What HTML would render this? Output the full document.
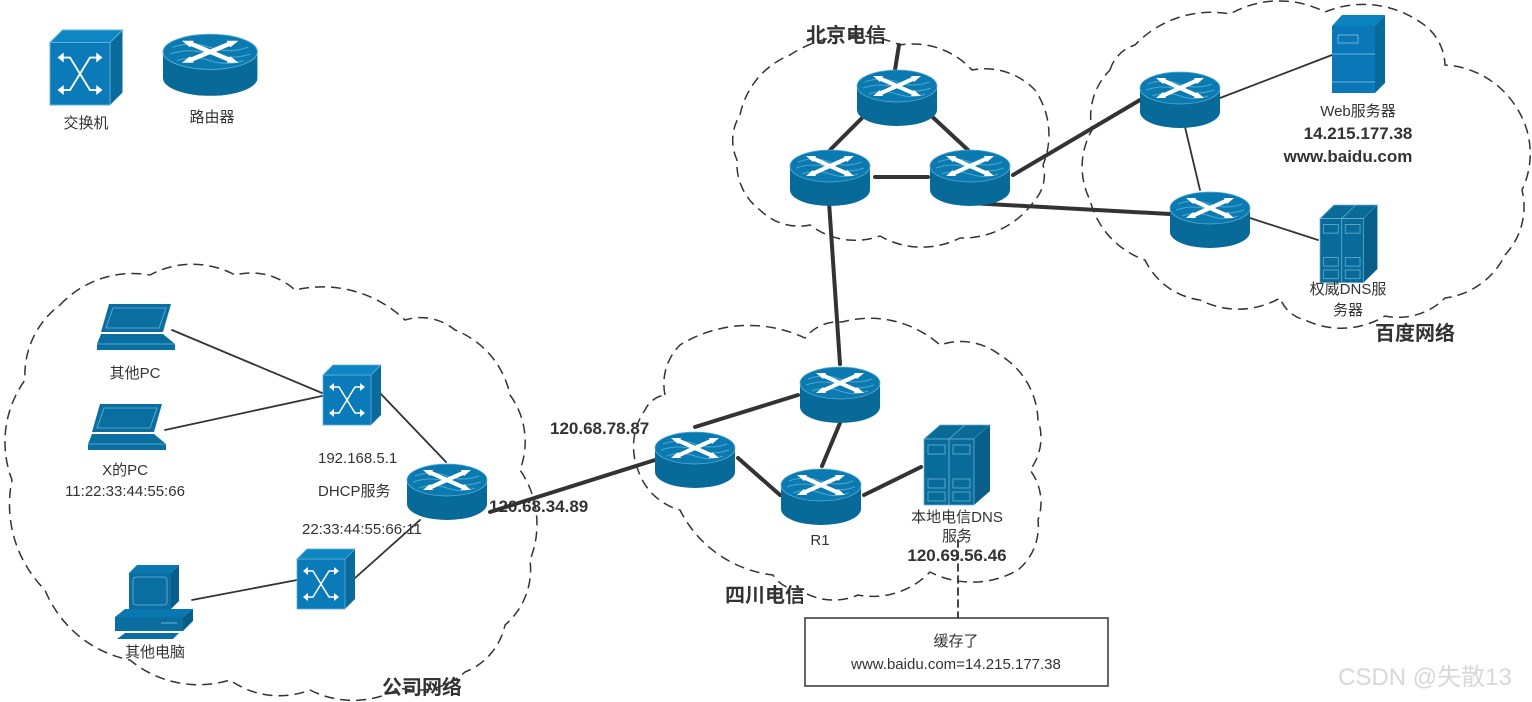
<!DOCTYPE html>
<html><head><meta charset="utf-8"><style>
body{margin:0;background:#fff;}
svg{display:block;font-family:"Liberation Sans","Noto Sans CJK SC",sans-serif;}
.t{font-size:15px;fill:#333;}
.b{font-size:17px;font-weight:bold;fill:#333;}
.bb{font-size:20px;font-weight:bold;fill:#333;}
</style></head><body>
<svg id="s" width="1532" height="702" viewBox="0 0 1532 702">
<defs>
<g id="rt">
<path d="M0,18 v24 a40,16 0 0 0 80,0 v-24 z" fill="#086a98"/>
<ellipse cx="40" cy="18" rx="40" ry="16" fill="#0b7ab0" stroke="#5fb0d8" stroke-width="0.8"/>
<path d="M8,14 q16,-6 32,0 t32,0 M6,20 q17,-6 34,0 t34,0 M12,26 q14,-5 28,0 t28,0" stroke="#4ea6d2" fill="none" stroke-width="1"/>
<path d="M22,10 L58,26 M58,10 L22,26" stroke="#fff" stroke-width="4"/>
<path d="M16,8 l10,0 l-3,6z M64,8 l-10,0 l3,6z M16,28 l10,0 l-3,-6z M64,28 l-10,0 l3,-6z" fill="#fff"/>
</g>
<g id="sw">
<path d="M0,10 L10,0 H58 V50 L48,60 Z" fill="#0a6a9c"/>
<rect x="0" y="10" width="48" height="50" fill="#0a7ab8" stroke="#5fb0d8" stroke-width="0.8"/>
<path d="M0,10 L10,0 H58 L48,10 Z" fill="#0f86c4" stroke="#5fb0d8" stroke-width="0.8"/>
<path d="M8,22 H16 L32,48 H40 M8,48 H16 L32,22 H40" stroke="#fff" stroke-width="1.5" fill="none"/>
<path d="M6,22 l5,-4 v8z M42,22 l-5,-4 v8z M6,48 l5,-4 v8z M42,48 l-5,-4 v8z" fill="#fff"/>
</g>
<g id="dns">
<path d="M0,14 L16,0 H66 L50,14 Z" fill="#0a6a98" stroke="#6ab4d8" stroke-width=".8"/>
<path d="M50,14 L66,0 V66 L50,80 Z" fill="#075e88"/>
<rect x="0" y="14" width="25" height="66" fill="#086b99" stroke="#6ab4d8" stroke-width=".8"/>
<rect x="25" y="14" width="25" height="66" fill="#086b99" stroke="#6ab4d8" stroke-width=".8"/>
<path d="M25,14 L41,0" stroke="#6ab4d8" stroke-width=".8"/>
<g fill="none" stroke="#6ab4d8" stroke-width=".8"><rect x="4" y="20" width="17" height="9"/><rect x="29" y="20" width="17" height="9"/><rect x="4" y="54" width="17" height="9"/><rect x="29" y="54" width="17" height="9"/><rect x="4" y="67" width="17" height="9"/><rect x="29" y="67" width="17" height="9"/></g>
</g>
<g id="lap">
<path d="M12,0 H74 L66,28 H4 Z" fill="#0a6fa0"/>
<path d="M16,4 H69 L62,24 H9 Z" fill="none" stroke="#6ab4d8" stroke-width=".8"/>
<path d="M4,30 H66 L78,40 V46 H0 V40 Z" fill="#0a6fa0"/>
<path d="M0,40 H62 L78,40" stroke="#6ab4d8" stroke-width=".8" fill="none"/>
</g>
<g id="pc">
<path d="M14,10 L22,2 H64 L56,10 Z" fill="#0a78b0"/>
<path d="M56,10 L64,2 V38 L56,46Z" fill="#075e88"/>
<rect x="14" y="10" width="42" height="36" fill="#0a6fa0"/>
<rect x="18" y="14" width="34" height="28" rx="3" fill="none" stroke="#6ab4d8" stroke-width=".8"/>
<path d="M0,54 L10,46 H78 L68,54 Z" fill="#0a78b0"/>
<rect x="0" y="54" width="68" height="14" fill="#0a6fa0"/><path d="M68,54 L78,46 V58 L68,68Z" fill="#075e88"/>
<line x1="46" y1="60" x2="62" y2="60" stroke="#6ab4d8"/>
<path d="M10,70 H64 L58,76 H2 Z" fill="#0a6fa0"/>
</g>
</defs>
<g id="clouds" fill="none" stroke="#333" stroke-width="1.5" stroke-dasharray="10,6"></g>
<g stroke="#333" stroke-linecap="round">
<g stroke-width="1.8">
<line x1="172" y1="330" x2="322" y2="393"/><line x1="165" y1="430" x2="322" y2="396"/>
<line x1="380" y1="393" x2="446" y2="462"/><line x1="192" y1="600" x2="297" y2="580"/>
<line x1="355" y1="578" x2="420" y2="520"/>
<line x1="1220" y1="98" x2="1332" y2="55"/><line x1="1185" y1="127" x2="1200" y2="190"/>
<line x1="1250" y1="218" x2="1318" y2="240"/>
</g>
<g stroke-width="4">
<line x1="490" y1="512" x2="655" y2="460"/><line x1="695" y1="427" x2="798" y2="395"/>
<line x1="738" y1="458" x2="780" y2="495"/><line x1="840" y1="423" x2="822" y2="466"/>
<line x1="864" y1="495" x2="921" y2="467"/><line x1="829" y1="202" x2="840" y2="364"/>
<line x1="870" y1="110" x2="830" y2="150"/><line x1="925" y1="110" x2="968" y2="150"/>
<line x1="875" y1="177" x2="928" y2="177"/><line x1="895" y1="70" x2="899" y2="45"/>
<line x1="1013" y1="175" x2="1140" y2="100"/><line x1="970" y1="203" x2="1170" y2="214"/>
</g>
<line x1="958" y1="540" x2="958" y2="618" stroke-width="1.8" stroke-dasharray="7,5"/>
</g>
<use href="#sw" transform="translate(50,30) scale(1.25)"/>
<use href="#rt" transform="translate(163,32) scale(1.18,1.1)"/>
<use href="#sw" x="323" y="365"/><use href="#sw" x="297" y="549"/>
<use href="#rt" x="407" y="462"/><use href="#rt" x="655" y="430"/><use href="#rt" x="800" y="365"/><use href="#rt" x="781" y="467"/>
<use href="#rt" x="857" y="68"/><use href="#rt" x="790" y="148"/><use href="#rt" x="930" y="148"/>
<use href="#rt" x="1140" y="70"/><use href="#rt" x="1170" y="190"/>
<use href="#dns" x="924" y="425"/><use href="#dns" transform="translate(1320,205) scale(0.87,0.97)"/>
<use href="#lap" x="97" y="304"/><use href="#lap" x="88" y="404"/><use href="#pc" x="115" y="563"/>
<g>
<path d="M1332,26 L1342,15 H1385 L1375,26Z" fill="#0b82bf"/><path d="M1375,26 L1385,15 V83 L1375,93Z" fill="#086a98"/>
<rect x="1332" y="26" width="43" height="67" fill="#0a78b8"/>
<line x1="1332" y1="54" x2="1375" y2="54" stroke="#6ab4d8"/><line x1="1332" y1="82" x2="1375" y2="82" stroke="#6ab4d8"/>
<rect x="1338" y="35" width="20" height="8" fill="none" stroke="#6ab4d8"/>
</g>
<rect x="805" y="618" width="303" height="68" fill="#fff" stroke="#333" stroke-width="1.5"/>
<text class="t" x="86" y="128" text-anchor="middle">交换机</text>
<text class="t" x="212" y="122" text-anchor="middle">路由器</text>
<text class="t" x="135" y="378" text-anchor="middle">其他PC</text>
<text class="t" x="125" y="475" text-anchor="middle">X的PC</text>
<text class="t" x="125" y="496" text-anchor="middle" font-size="16">11:22:33:44:55:66</text>
<text class="t" x="155" y="657" text-anchor="middle">其他电脑</text>
<text class="t" x="318" y="463" font-size="16">192.168.5.1</text>
<text class="t" x="318" y="496" font-size="16">DHCP服务</text>
<text class="t" x="302" y="534" font-size="16">22:33:44:55:66:11</text>
<text class="b" x="489" y="512">120.68.34.89</text>
<text class="b" x="550" y="434">120.68.78.87</text>
<text class="t" x="820" y="545" text-anchor="middle">R1</text>
<text class="t" x="957" y="522" text-anchor="middle">本地电信DNS</text>
<text class="t" x="957" y="541" text-anchor="middle">服务</text>
<text class="b" x="957" y="561" text-anchor="middle">120.69.56.46</text>
<text class="bb" x="765" y="602" text-anchor="middle">四川电信</text>
<text class="bb" x="422" y="694" text-anchor="middle">公司网络</text>
<text class="bb" x="846" y="42" text-anchor="middle">北京电信</text>
<text class="bb" x="1415" y="340" text-anchor="middle">百度网络</text>
<text class="t" x="1358" y="116" text-anchor="middle" font-size="16">Web服务器</text>
<text class="b" x="1358" y="139" text-anchor="middle">14.215.177.38</text>
<text class="b" x="1348" y="162" text-anchor="middle">www.baidu.com</text>
<text class="t" x="1348" y="294" text-anchor="middle">权威DNS服</text>
<text class="t" x="1348" y="315" text-anchor="middle">务器</text>
<text class="t" x="956" y="646" text-anchor="middle" font-size="16">缓存了</text>
<text class="t" x="956" y="669" text-anchor="middle" font-size="16">www.baidu.com=14.215.177.38</text>
<text x="1425" y="685" text-anchor="middle" font-size="24" fill="#d8d8d8">CSDN @失散13</text>
</svg>
<script>
var C=[
[[60,305],[150,275],[235,275],[295,290],[405,320],[455,330],[510,395],[520,470],[530,560],[505,625],[465,672],[400,688],[310,690],[230,680],[130,660],[45,590],[12,480],[25,380]],
[[665,395],[680,345],[805,338],[842,322],[940,345],[1000,355],[1038,420],[1030,470],[1038,520],[1018,570],[930,572],[858,595],[800,590],[773,575],[680,510],[638,470],[645,410]],
[[740,115],[790,55],[900,45],[972,70],[1035,90],[1043,165],[1035,200],[960,238],[880,236],[810,225],[760,210],[737,160]],
[[1110,70],[1135,45],[1230,14],[1325,12],[1420,22],[1445,65],[1518,110],[1522,190],[1505,255],[1445,298],[1385,316],[1305,320],[1280,298],[1200,300],[1145,260],[1090,200],[1092,130]]];
var g=document.getElementById('clouds');
C.forEach(function(p){var d='M'+p[0][0]+','+p[0][1];
for(var i=1;i<=p.length;i++){var a=p[i-1],b=p[i%p.length];var L=Math.hypot(b[0]-a[0],b[1]-a[1]);var r=L*1.05;
d+=' A'+r+','+r+' 0 0 1 '+b[0]+','+b[1];}
var e=document.createElementNS('http://www.w3.org/2000/svg','path');e.setAttribute('d',d);g.appendChild(e);});
</script>
</body></html>
